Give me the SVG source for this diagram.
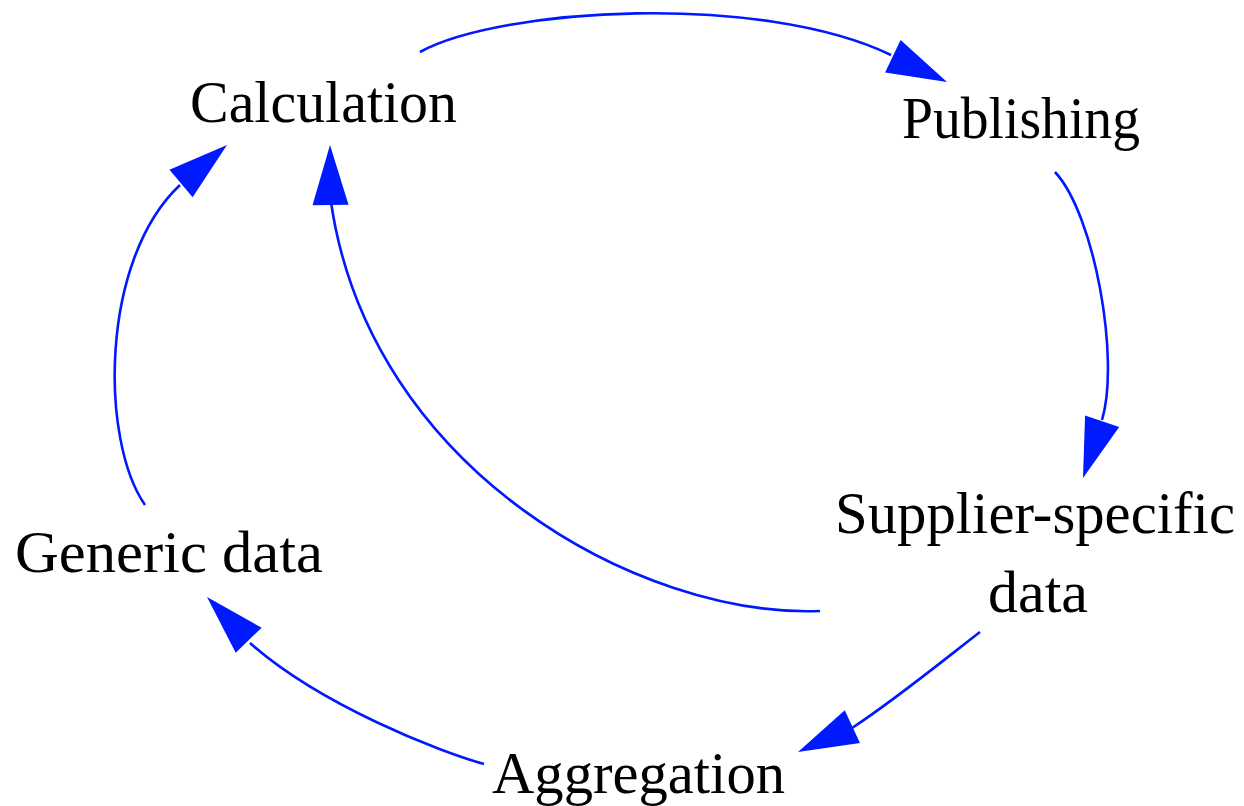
<svg xmlns="http://www.w3.org/2000/svg" xmlns:xlink="http://www.w3.org/1999/xlink" width="1244" height="806" viewBox="0 0 1244 806">
<style>
.lbl{font-family:"Liberation Serif","Times New Roman",serif;font-size:60px;fill:#000;text-anchor:middle}
.edge{fill:none;stroke:#0019ff;stroke-width:2.6}
.head{fill:#0019ff}
</style>
<defs>
<polygon id="ah" points="0,0 -60,-18 -60,18"/>
</defs>
<rect width="1244" height="806" fill="#fff"/>
<g id="connectors">
<path class="edge" d="M420,52 C500,8 760,-8 891,55"/>
<use class="head" xlink:href="#ah" href="#ah" transform="translate(947,82) rotate(25.5)"/>
<path class="edge" d="M1055,172 C1095,215 1120,360 1102,420"/>
<use class="head" xlink:href="#ah" href="#ah" transform="translate(1083,478) rotate(108.6)"/>
<path class="edge" d="M980,632 C950,655 895,700 852,728"/>
<use class="head" xlink:href="#ah" href="#ah" transform="translate(798,752) rotate(155)"/>
<path class="edge" d="M484,764 C440,752 320,705 250,643"/>
<use class="head" xlink:href="#ah" href="#ah" transform="translate(207,597) rotate(226)"/>
<path class="edge" d="M145,505 C100,440 100,260 180,185"/>
<use class="head" xlink:href="#ah" href="#ah" transform="translate(227,145) rotate(-40)"/>
<path class="edge" d="M820,611 C640,618 370,470 331,202"/>
<use class="head" xlink:href="#ah" href="#ah" transform="translate(330,145) rotate(-90.5)"/>
</g>
<g id="calculation"><text class="lbl" x="323.5" y="122" textLength="267" lengthAdjust="spacingAndGlyphs">Calculation</text></g>
<g id="publishing"><text class="lbl" x="1021" y="138" textLength="238" lengthAdjust="spacingAndGlyphs">Publishing</text></g>
<g id="supplier-specific-data"><text class="lbl" x="1035" y="533" textLength="400" lengthAdjust="spacingAndGlyphs">Supplier-specific</text><text class="lbl" x="1038" y="612" textLength="100" lengthAdjust="spacingAndGlyphs">data</text></g>
<g id="generic-data"><text class="lbl" x="169" y="572" textLength="308" lengthAdjust="spacingAndGlyphs">Generic data</text></g>
<g id="aggregation"><text class="lbl" x="638.5" y="793" textLength="293" lengthAdjust="spacingAndGlyphs">Aggregation</text></g>
</svg>
